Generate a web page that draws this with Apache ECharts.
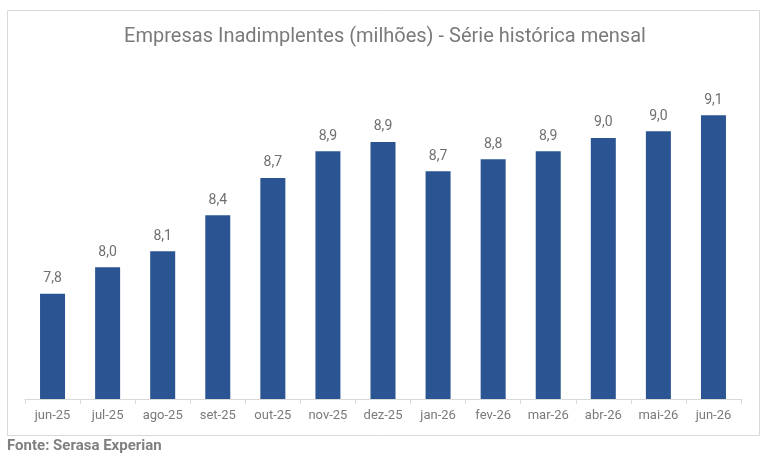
<!DOCTYPE html>
<html>
<head>
<meta charset="utf-8">
<script src="https://cdn.jsdelivr.net/npm/echarts@6/dist/echarts.min.js"></script>
<style>
  html, body { margin: 0; padding: 0; background: #fff; }
  #chart { width: 770px; height: 460px; }
</style>
</head>
<body>
<div id="chart"></div>
<script>
// dados (milhões de empresas)
var meses = ['jun-25', 'jul-25', 'ago-25', 'set-25', 'out-25', 'nov-25', 'dez-25',
             'jan-26', 'fev-26', 'mar-26', 'abr-26', 'mai-26', 'jun-26'];
var inadimplentes = [7.79, 7.99, 8.11, 8.38, 8.66, 8.86, 8.93, 8.71, 8.80, 8.86, 8.96, 9.01, 9.13];

var titulo = 'Empresas Inadimplentes (milhões) - Série histórica mensal';
var fonte = 'Fonte: Serasa Experian';

var myChart = echarts.init(document.getElementById('chart'));

var option = {
    backgroundColor: '#fff',
    textStyle: { fontFamily: 'Roboto' },
    title: {
        text: titulo,
        left: 'center',
        top: 22,
        textStyle: { fontSize: 20, fontWeight: 'normal', color: '#7a7a7a', fontFamily: 'Roboto' }
    },
    // moldura e fonte
    graphic: [
        {
            type: 'rect',
            shape: { x: 7.5, y: 10.5, width: 752, height: 425 },
            style: { fill: 'none', stroke: '#d9d9d9', lineWidth: 1 },
            z: -1
        },
        {
            type: 'text',
            left: 7,
            top: 439,
            style: { text: fonte, fill: '#7f7f7f', font: 'bold 15px Roboto' }
        }
    ],
    grid: { left: 25, right: 29, top: 66, bottom: 61 },
    xAxis: {
        type: 'category',
        data: meses,
        boundaryGap: true,
        axisLine: { lineStyle: { color: '#d9d9d9' } },
        axisTick: { show: true, length: 5, alignWithLabel: false, lineStyle: { color: '#d9d9d9' } },
        axisLabel: { color: '#7a7a7a', fontSize: 13, margin: 10, interval: 0 }
    },
    yAxis: {
        type: 'value',
        min: 7,
        max: 9.5,
        show: false,
        splitLine: { show: false }
    },
    series: [{
        name: 'Empresas inadimplentes',
        type: 'bar',
        data: inadimplentes,
        barWidth: 25,
        itemStyle: { color: '#2a5592' },
        label: {
            show: true,
            position: 'top',
            distance: 8,
            color: '#6f6f6f',
            fontSize: 14,
            formatter: function (p) {
                return p.value.toFixed(1).replace('.', ',');
            }
        }
    }]
};

myChart.setOption(option);
</script>
</body>
</html>
